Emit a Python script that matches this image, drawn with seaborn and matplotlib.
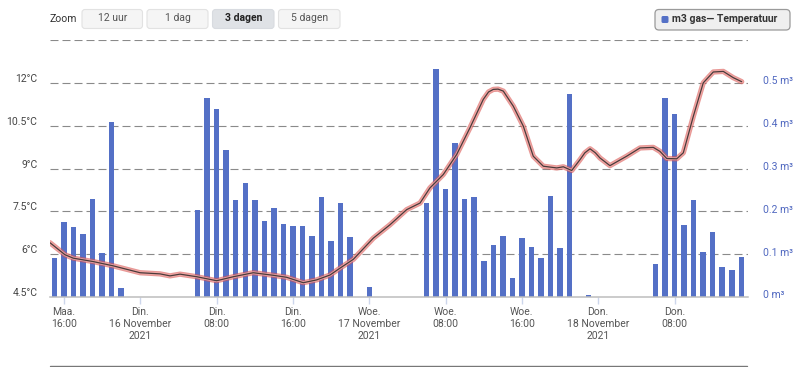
import matplotlib
matplotlib.use("Agg")
import matplotlib.pyplot as plt
import matplotlib.transforms as mtransforms
from matplotlib.patches import FancyBboxPatch
from matplotlib.lines import Line2D
import numpy as np
import pandas as pd
import seaborn as sns

# ---------------- data ----------------
# hours counted from Monday 15 Nov 2021 00:00
gas_hours = list(range(15, 88))
gas_m3 = [0.092, 0.175, 0.163, 0.148, 0.229, 0.102, 0.408, 0.021, 0.0,   # Mon 15-23
          0.0, 0.0, 0.0, 0.0, 0.0, 0.0,                                   # Tue 00-05
          0.203, 0.465, 0.438, 0.344, 0.227, 0.265, 0.227, 0.177, 0.207,   # Tue 06-14
          0.171, 0.165, 0.166, 0.142, 0.233, 0.131, 0.219, 0.140, 0.0,     # Tue 15-23
          0.023, 0.0, 0.0, 0.0, 0.0, 0.0,                                  # Wed 00-05
          0.219, 0.533, 0.252, 0.360, 0.229, 0.234, 0.084, 0.121, 0.142,   # Wed 06-14
          0.044, 0.137, 0.116, 0.091, 0.236, 0.115, 0.473, 0.0, 0.004,     # Wed 15-23
          0.0, 0.0, 0.0, 0.0, 0.0, 0.0,                                    # Thu 00-05
          0.077, 0.465, 0.427, 0.169, 0.227, 0.105, 0.152, 0.070, 0.063,   # Thu 06-14
          0.094]                                                           # Thu 15

temp_hours = [14.53, 16.1, 16.97, 19.07, 21.17, 23.97, 26.06, 27.11, 28.16, 29.91,
              32.0, 33.75, 35.84, 37.94, 39.34, 41.08, 42.49, 43.88, 44.93, 46.33,
              48.42, 50.17, 51.92, 53.32, 54.36, 55.76, 57.16, 58.56, 59.95, 60.5,
              61.0, 61.5, 62.05, 63.1, 64.15, 65.19, 66.24, 67.65, 68.34, 69.22,
              70.09, 70.6, 71.14, 71.7, 72.18, 73.23, 74.98, 76.38, 77.77, 78.47,
              79.18, 80.23, 80.92, 81.97, 83.01, 84.06, 85.11, 86.16, 87.04]
temp_c = [6.40, 5.98, 5.86, 5.74, 5.59, 5.35, 5.31, 5.24, 5.30, 5.21,
          5.07, 5.21, 5.35, 5.26, 5.19, 5.00, 5.10, 5.27, 5.51, 5.82,
          6.56, 7.03, 7.56, 7.79, 8.32, 8.79, 9.49, 10.43, 11.42, 11.68,
          11.77, 11.78, 11.71, 11.18, 10.48, 9.43, 9.08, 9.02, 9.06, 8.93,
          9.31, 9.55, 9.69, 9.55, 9.37, 9.10, 9.43, 9.72, 9.74, 9.60,
          9.35, 9.34, 9.55, 10.83, 12.00, 12.38, 12.40, 12.18, 12.04]

x_tick_hours = [16, 24, 32, 40, 48, 56, 64, 72, 80]
x_tick_labels = ["Maa.\n16:00", "Din.\n16 November\n2021", "Din.\n08:00",
                 "Din.\n16:00", "Woe.\n17 November\n2021", "Woe.\n08:00",
                 "Woe.\n16:00", "Don.\n18 November\n2021", "Don.\n08:00"]
temp_ticks = [4.5, 6, 7.5, 9, 10.5, 12]
temp_tick_labels = ["4.5°C", "6°C", "7.5°C", "9°C", "10.5°C", "12°C"]
gas_ticks = [0, 0.1, 0.2, 0.3, 0.4, 0.5]
gas_tick_labels = ["0 m³", "0.1 m³", "0.2 m³", "0.3 m³", "0.4 m³", "0.5 m³"]
zoom_buttons = ["12 uur", "1 dag", "3 dagen", "5 dagen"]
selected_button = "3 dagen"
legend_label = "m3 gas— Temperatuur"

# ---------------- style ----------------
sns.set_theme(style="white")
plt.rcParams["font.family"] = ["Roboto", "DejaVu Sans"]

W, H = 800, 367
FS = 7.5
fig = plt.figure(figsize=(W / 100, H / 100), dpi=100)
fig.patch.set_facecolor("white")

L, R, T, B = 50, 748, 40, 297
ax = fig.add_axes([L / W, 1 - B / H, (R - L) / W, (B - T) / H])
ax2 = ax.twinx()

BAR_COLOR = "#5470c6"
GRID_COLOR = "#8a8a8a"

gas_df = pd.DataFrame({"hour": gas_hours, "gas": gas_m3})
temp_df = pd.DataFrame({"hour": temp_hours, "temp": temp_c})

# gridlines behind bars
for g in [0.1, 0.2, 0.3, 0.4, 0.5, 0.6]:
    ax2.axhline(g, color=GRID_COLOR, lw=0.8, dashes=(7.2, 3.6), zorder=0)

sns.barplot(data=gas_df, x="hour", y="gas", native_scale=True, ax=ax2,
            color=BAR_COLOR, saturation=1, width=0.58, linewidth=0,
            errorbar=None, zorder=2)

# temperature line with halo
sns.lineplot(data=temp_df, x="hour", y="temp", ax=ax, color="#d9534f",
             alpha=0.6, lw=3.8, legend=False, solid_capstyle="round")
sns.lineplot(data=temp_df, x="hour", y="temp", ax=ax, color="#f2aaa8",
             alpha=0.85, lw=2.2, legend=False, solid_capstyle="round")
sns.lineplot(data=temp_df, x="hour", y="temp", ax=ax, color="#4a3b3b",
             lw=0.9, legend=False)

ax.set_zorder(ax2.get_zorder() + 1)
ax.patch.set_visible(False)

ax.set_xlim(14.53, 87.7)
ax2.set_xlim(14.53, 87.7)
ax.set_ylim(4.5, 13.5)
ax2.set_ylim(0, 0.6)

for a in (ax, ax2):
    a.set_xlabel("")
    a.set_ylabel("")
    for s in a.spines.values():
        s.set_visible(False)
ax.spines["bottom"].set_visible(True)
ax.spines["bottom"].set_color("#bdbdbd")
ax.spines["bottom"].set_linewidth(1.1)

# x ticks
ax.set_xticks(x_tick_hours, x_tick_labels)
ax.tick_params(axis="x", length=5, width=1, color="#ccd6eb", pad=2.5,
               labelsize=FS, labelcolor="#555555", bottom=True)
for t in ax.get_xticklabels():
    t.set_linespacing(1.2)
    t.set_horizontalalignment("center")

# left y ticks
ax.set_yticks(temp_ticks, temp_tick_labels)
ax.tick_params(axis="y", length=0, pad=9, labelsize=FS, labelcolor="#444444", left=True)
off_l = mtransforms.ScaledTranslation(0, 5 / 100, fig.dpi_scale_trans)
for t in ax.get_yticklabels():
    t.set_transform(t.get_transform() + off_l)

# right y ticks
ax2.set_yticks(gas_ticks, gas_tick_labels)
ax2.tick_params(axis="y", length=0, pad=10.5, labelsize=FS, labelcolor="#5068c0", right=True)
off_r = mtransforms.ScaledTranslation(0, 2.5 / 100, fig.dpi_scale_trans)
for t in ax2.get_yticklabels():
    t.set_transform(t.get_transform() + off_r)

# ---------------- top controls (pixel coordinates) ----------------
ident = mtransforms.IdentityTransform()


def box(x0, y0, x1, y1, fc, ec, r=3, lw=0.8):
    p = FancyBboxPatch((x0, H - y1), x1 - x0, y1 - y0,
                       boxstyle=f"round,pad=0,rounding_size={r}",
                       fc=fc, ec=ec, lw=lw, transform=ident)
    fig.patches.append(p)


fig.text(50 / W, 1 - 18.5 / H, "Zoom", fontsize=FS, color="#333333",
         ha="left", va="center")
btn_x = [(82, 142.5), (147, 208), (212.5, 274), (278.5, 340)]
for (x0, x1), label in zip(btn_x, zoom_buttons):
    sel = label == selected_button
    box(x0, 9.5, x1, 28.5, "#dfe2e6" if sel else "#f5f5f5",
        "#d8dbe0" if sel else "#e2e2e2")
    fig.text((x0 + x1) / 2 / W, 1 - 18 / H, label, fontsize=FS,
             color="#222222" if sel else "#555555",
             fontweight="bold" if sel else "normal", ha="center", va="center")

# legend
box(655, 9.5, 790, 30, "#efefef", "#9a9a9a", r=4, lw=0.9)
box(661.5, 16, 668.5, 23, BAR_COLOR, BAR_COLOR, r=1.5, lw=0)
fig.text(672.5 / W, 1 - 19.5 / H, legend_label, fontsize=FS, fontweight="bold",
         color="#333333", ha="left", va="center")

# bottom navigator edge
fig.lines.append(Line2D([50 / W, 747 / W], [1 - 365.5 / H, 1 - 365.5 / H],
                        transform=fig.transFigure, color="#777777", lw=1))

fig.savefig("out.png", dpi=100, facecolor="white")
